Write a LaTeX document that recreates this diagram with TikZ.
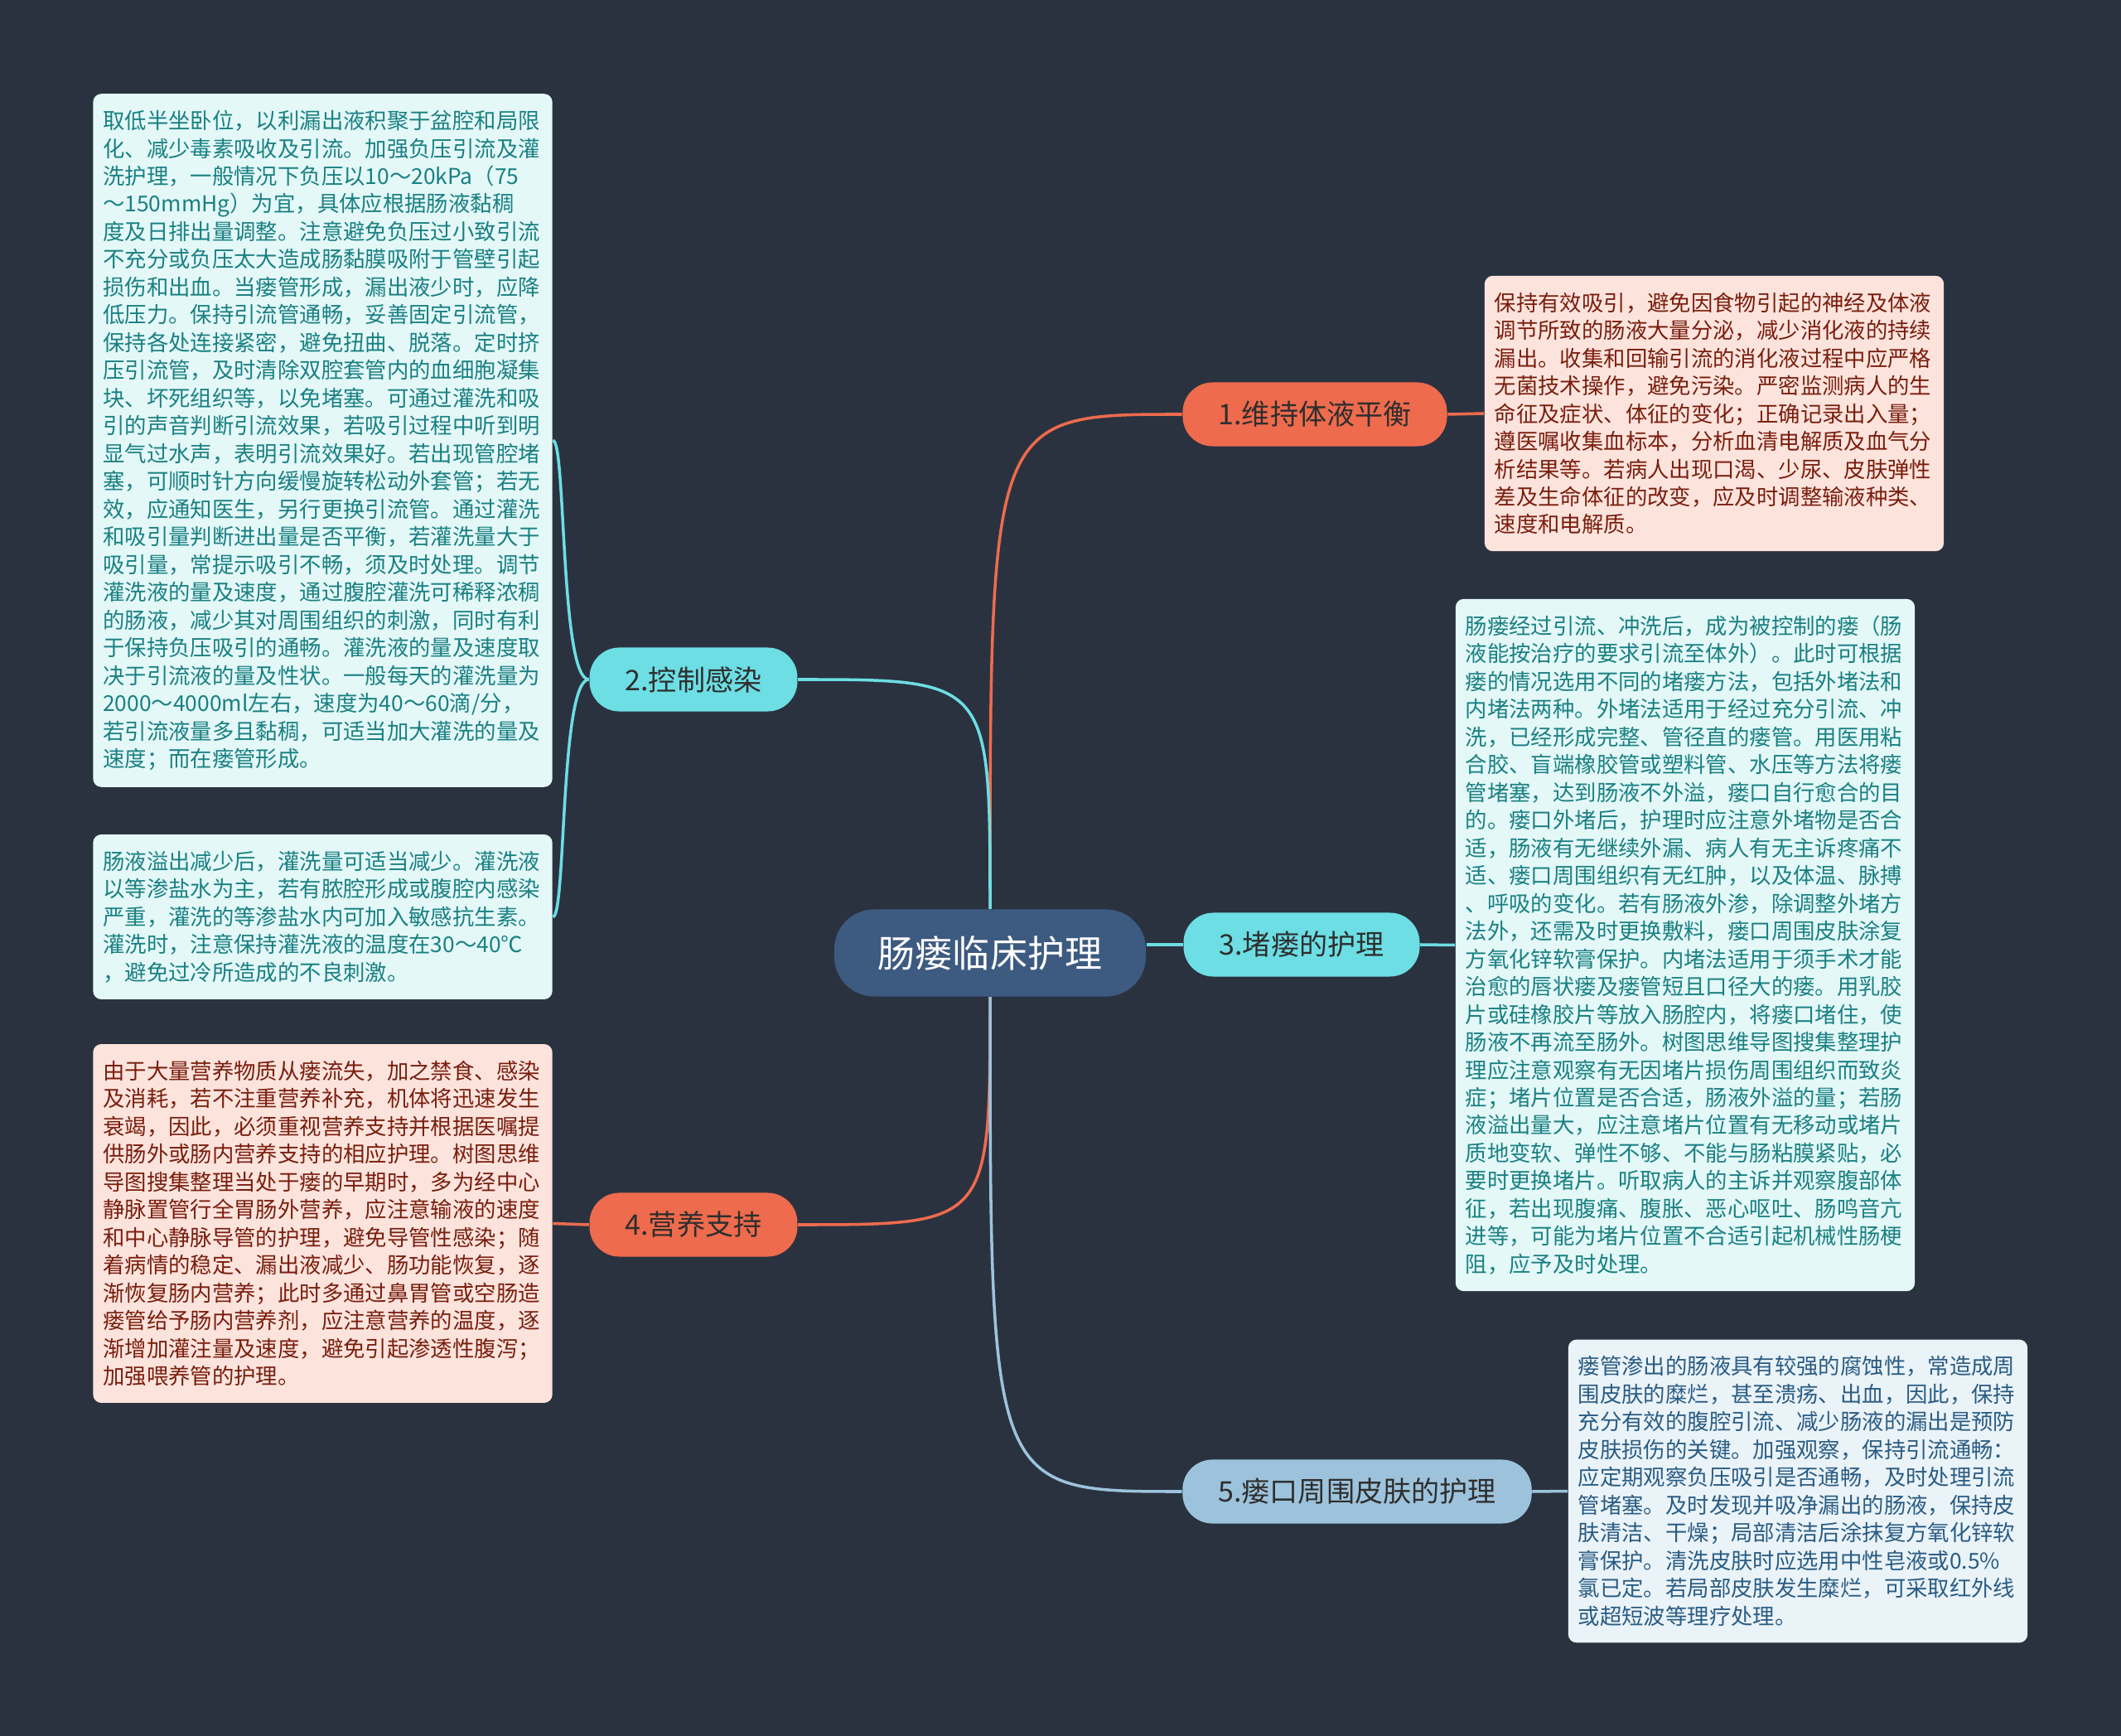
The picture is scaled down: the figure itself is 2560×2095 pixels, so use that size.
\documentclass[tikz,border=0pt]{standalone}
\usepackage{fontspec}
\setmainfont{Noto Sans CJK SC}
\definecolor{Fondo}{RGB}{42,50,64}
\definecolor{Raiz}{RGB}{61,90,128}
\definecolor{Coral}{RGB}{238,107,77}
\definecolor{Cian}{RGB}{108,222,228}
\definecolor{Azul}{RGB}{157,195,220}
\definecolor{HojaCian}{RGB}{228,248,248}
\definecolor{TextoCian}{RGB}{26,128,130}
\definecolor{HojaRosa}{RGB}{252,228,221}
\definecolor{TextoRosa}{RGB}{122,30,14}
\definecolor{HojaAzul}{RGB}{234,243,248}
\definecolor{TextoAzul}{RGB}{42,92,132}

\begin{document}
\begin{tikzpicture}[
  x=0.01cm, y=-0.01cm,
  pastilla/.style={
    rectangle, rounded corners=0.36cm,
    minimum height=0.77cm, inner xsep=0.43cm, inner ysep=0pt,
    font=\fontsize{9.7}{11}\selectfont, text=black!82
  },
  raiz/.style={pastilla, rounded corners=0.48cm, minimum height=1.05cm,
    inner xsep=0.53cm, fill=Raiz, text=white,
    font=\fontsize{12.8}{14}\selectfont},
  ramaC/.style={pastilla, fill=Coral},
  ramaK/.style={pastilla, fill=Cian},
  ramaA/.style={pastilla, fill=Azul},
  hoja/.style={
    rectangle, rounded corners=0.1cm,
    text width=5.3cm, align=left, inner xsep=0.12cm, inner ysep=0.2cm,
    font=\fontsize{7.5}{9.52}\selectfont
  },
  hojaK/.style={hoja, fill=HojaCian, text=TextoCian},
  hojaR/.style={hoja, fill=HojaRosa, text=TextoRosa},
  hojaA/.style={hoja, fill=HojaAzul, text=TextoAzul},
  lazo/.style={line width=1pt},
  lazoC/.style={lazo, draw=Coral},
  lazoK/.style={lazo, draw=Cian},
  lazoA/.style={lazo, draw=Azul}
]

%% fondo
\useasboundingbox (0,0) rectangle (2560,2095);
\fill[Fondo] (0,0) rectangle (2560,2095);

%% ─── raíz y ramas ───
\node[raiz]  (raiz) at (1195,1150) {肠瘘临床护理};
\node[ramaC] (r1)   at (1587,500)  {1.维持体液平衡};
\node[ramaK] (r2)   at (837,820)   {2.控制感染};
\node[ramaK] (r3)   at (1571,1140) {3.堵瘘的护理};
\node[ramaC] (r4)   at (837,1478)  {4.营养支持};
\node[ramaA] (r5)   at (1638,1800) {5.瘘口周围皮肤的护理};

%% ─── hojas ───
\node[hojaR] (h1) at (2069,499) {%
保持有效吸引，避免因食物引起的神经及体液\\
调节所致的肠液大量分泌，减少消化液的持续\\
漏出。收集和回输引流的消化液过程中应严格\\
无菌技术操作，避免污染。严密监测病人的生\\
命征及症状、体征的变化；正确记录出入量；\\
遵医嘱收集血标本，分析血清电解质及血气分\\
析结果等。若病人出现口渴、少尿、皮肤弹性\\
差及生命体征的改变，应及时调整输液种类、\\
速度和电解质。};

\node[hojaK] (h2a) at (389.5,531.5) {%
取低半坐卧位，以利漏出液积聚于盆腔和局限\\
化、减少毒素吸收及引流。加强负压引流及灌\\
洗护理，一般情况下负压以10～20kPa（75\\
～150mmHg）为宜，具体应根据肠液黏稠\\
度及日排出量调整。注意避免负压过小致引流\\
不充分或负压太大造成肠黏膜吸附于管壁引起\\
损伤和出血。当瘘管形成，漏出液少时，应降\\
低压力。保持引流管通畅，妥善固定引流管，\\
保持各处连接紧密，避免扭曲、脱落。定时挤\\
压引流管，及时清除双腔套管内的血细胞凝集\\
块、坏死组织等，以免堵塞。可通过灌洗和吸\\
引的声音判断引流效果，若吸引过程中听到明\\
显气过水声，表明引流效果好。若出现管腔堵\\
塞，可顺时针方向缓慢旋转松动外套管；若无\\
效，应通知医生，另行更换引流管。通过灌洗\\
和吸引量判断进出量是否平衡，若灌洗量大于\\
吸引量，常提示吸引不畅，须及时处理。调节\\
灌洗液的量及速度，通过腹腔灌洗可稀释浓稠\\
的肠液，减少其对周围组织的刺激，同时有利\\
于保持负压吸引的通畅。灌洗液的量及速度取\\
决于引流液的量及性状。一般每天的灌洗量为\\
2000～4000ml左右，速度为40～60滴/分，\\
若引流液量多且黏稠，可适当加大灌洗的量及\\
速度；而在瘘管形成。};

\node[hojaK] (h2b) at (389.5,1106.5) {%
肠液溢出减少后，灌洗量可适当减少。灌洗液\\
以等渗盐水为主，若有脓腔形成或腹腔内感染\\
严重，灌洗的等渗盐水内可加入敏感抗生素。\\
灌洗时，注意保持灌洗液的温度在30～40℃\\
，避免过冷所造成的不良刺激。};

\node[hojaK] (h3) at (2034,1140.5) {%
肠瘘经过引流、冲洗后，成为被控制的瘘（肠\\
液能按治疗的要求引流至体外）。此时可根据\\
瘘的情况选用不同的堵瘘方法，包括外堵法和\\
内堵法两种。外堵法适用于经过充分引流、冲\\
洗，已经形成完整、管径直的瘘管。用医用粘\\
合胶、盲端橡胶管或塑料管、水压等方法将瘘\\
管堵塞，达到肠液不外溢，瘘口自行愈合的目\\
的。瘘口外堵后，护理时应注意外堵物是否合\\
适，肠液有无继续外漏、病人有无主诉疼痛不\\
适、瘘口周围组织有无红肿，以及体温、脉搏\\
、呼吸的变化。若有肠液外渗，除调整外堵方\\
法外，还需及时更换敷料，瘘口周围皮肤涂复\\
方氧化锌软膏保护。内堵法适用于须手术才能\\
治愈的唇状瘘及瘘管短且口径大的瘘。用乳胶\\
片或硅橡胶片等放入肠腔内，将瘘口堵住，使\\
肠液不再流至肠外。树图思维导图搜集整理护\\
理应注意观察有无因堵片损伤周围组织而致炎\\
症；堵片位置是否合适，肠液外溢的量；若肠\\
液溢出量大，应注意堵片位置有无移动或堵片\\
质地变软、弹性不够、不能与肠粘膜紧贴，必\\
要时更换堵片。听取病人的主诉并观察腹部体\\
征，若出现腹痛、腹胀、恶心呕吐、肠鸣音亢\\
进等，可能为堵片位置不合适引起机械性肠梗\\
阻，应予及时处理。};

\node[hojaR] (h4) at (389.5,1476.5) {%
由于大量营养物质从瘘流失，加之禁食、感染\\
及消耗，若不注重营养补充，机体将迅速发生\\
衰竭，因此，必须重视营养支持并根据医嘱提\\
供肠外或肠内营养支持的相应护理。树图思维\\
导图搜集整理当处于瘘的早期时，多为经中心\\
静脉置管行全胃肠外营养，应注意输液的速度\\
和中心静脉导管的护理，避免导管性感染；随\\
着病情的稳定、漏出液减少、肠功能恢复，逐\\
渐恢复肠内营养；此时多通过鼻胃管或空肠造\\
瘘管给予肠内营养剂，应注意营养的温度，逐\\
渐增加灌注量及速度，避免引起渗透性腹泻；\\
加强喂养管的护理。};

\node[hojaA] (h5) at (2170,1799.5) {%
瘘管渗出的肠液具有较强的腐蚀性，常造成周\\
围皮肤的糜烂，甚至溃疡、出血，因此，保持\\
充分有效的腹腔引流、减少肠液的漏出是预防\\
皮肤损伤的关键。加强观察，保持引流通畅：\\
应定期观察负压吸引是否通畅，及时处理引流\\
管堵塞。及时发现并吸净漏出的肠液，保持皮\\
肤清洁、干燥；局部清洁后涂抹复方氧化锌软\\
膏保护。清洗皮肤时应选用中性皂液或0.5\%\\
氯已定。若局部皮肤发生糜烂，可采取红外线\\
或超短波等理疗处理。};

%% ─── conexiones ───
\draw[lazoC] (raiz.north) .. controls (raiz.north |- r1.west) .. (r1.west);
\draw[lazoC] (r1.east) -- (h1.west);

\draw[lazoK] (raiz.north) .. controls (raiz.north |- r2.east) .. (r2.east);
\draw[lazoK] (r2.west) .. controls ([xshift=-0.35cm]r2.west)
  and ([xshift=0.16cm]h2a.east) .. (h2a.east);
\draw[lazoK] (r2.west) .. controls ([xshift=-0.35cm]r2.west)
  and ([xshift=0.16cm]h2b.east) .. (h2b.east);

\draw[lazoK] (raiz.east |- r3.west) -- (r3.west);
\draw[lazoK] (r3.east) -- (h3.west);

\draw[lazoC] (raiz.south) .. controls (raiz.south |- r4.east) .. (r4.east);
\draw[lazoC] (r4.west) -- (h4.east);

\draw[lazoA] (raiz.south) .. controls (raiz.south |- r5.west) .. (r5.west);
\draw[lazoA] (r5.east) -- (h5.west);

\end{tikzpicture}
\end{document}
